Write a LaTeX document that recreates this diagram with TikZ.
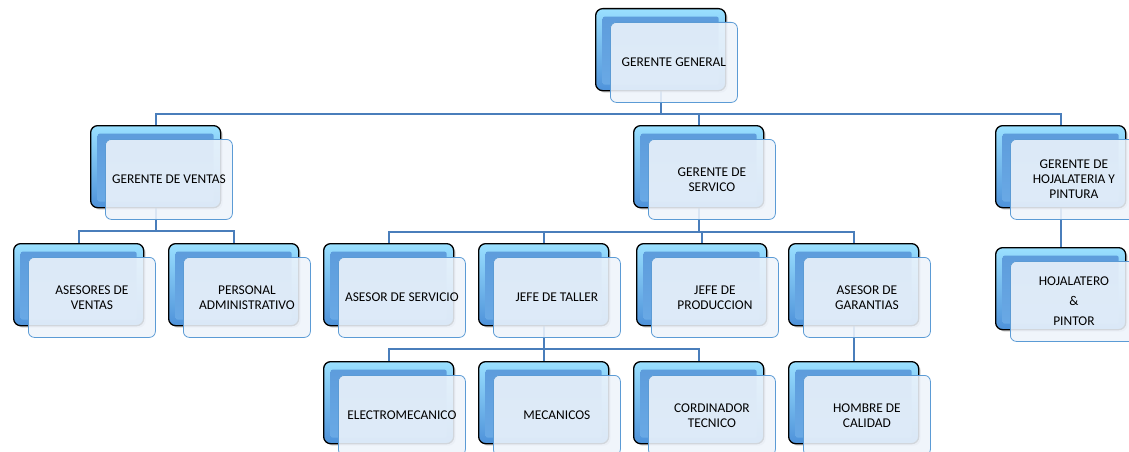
\documentclass[tikz,border=0pt]{standalone}
\usepackage{fontspec}
\setmainfont{Carlito}
\usetikzlibrary{shadows,calc}

\definecolor{bevtop}{HTML}{9AE0FF}
\definecolor{bevbot}{HTML}{4E92DA}
\definecolor{facetop}{HTML}{5C9BDB}
\definecolor{facebot}{HTML}{6AAAE6}
\definecolor{rimblue}{HTML}{5B9BD5}
\definecolor{glass}{HTML}{EEF4FB}
\definecolor{linkblue}{HTML}{4A7EBB}

\newcommand\orgfont{\fontsize{13.4}{15}\selectfont}
\pgfdeclarelayer{background}
\pgfsetlayers{background,main}

\tikzset{
  backbox/.style={draw=black, line width=1.3pt, rounded corners=7pt,
    minimum width=130pt, minimum height=82pt, anchor=north west, inner sep=0pt,
    top color=bevtop, bottom color=bevbot,
    drop shadow={shadow xshift=2pt, shadow yshift=-2pt, opacity=0.35},
    path picture={\shade[top color=facetop, bottom color=facebot, rounded corners=2pt]
      ([xshift=7pt,yshift=-8pt]path picture bounding box.north west) rectangle
      ([xshift=-7pt,yshift=6pt]path picture bounding box.south east);}},
  frontbox/.style={draw=rimblue, line width=0.8pt, rounded corners=6pt,
    fill=glass, fill opacity=0.88, text opacity=1,
    minimum width=127pt, minimum height=80pt, inner sep=2pt,
    align=center, font=\orgfont, anchor=north west},
  link/.style={draw=linkblue, line width=2.2pt}
}

% one unit: a bevelled block with a glass label card in front of it
\newcommand\orgunit[4]{%
  \node[backbox] (#1b) at (#2,#3) {};
  \node[frontbox] (#1) at ($(#2,#3)+(15,14)$) {#4};
}

\begin{document}
\begin{tikzpicture}[x=1pt, y=-1pt]
\clip (0,0) rectangle (1129,452);

\orgunit{gg}{595}{8}{GERENTE GENERAL}

\orgunit{ven}{90}{125}{GERENTE DE VENTAS}
\orgunit{ser}{633}{125}{GERENTE DE\\SERVICO}
\orgunit{hoj}{995}{125}{GERENTE DE\\HOJALATERIA Y\\PINTURA}

\orgunit{av}{13}{243}{ASESORES DE\\VENTAS}
\orgunit{pa}{168}{243}{PERSONAL\\ADMINISTRATIVO}
\orgunit{as}{323}{243}{ASESOR DE SERVICIO}
\orgunit{jt}{478}{243}{JEFE DE TALLER}
\orgunit{jp}{636}{243}{JEFE DE\\PRODUCCION}
\orgunit{ag}{788}{243}{ASESOR DE\\GARANTIAS}
\orgunit{hp}{995}{247}{HOJALATERO\\[5pt]\&\\[5pt]PINTOR}

\orgunit{el}{323}{361}{ELECTROMECANICO}
\orgunit{me}{478}{361}{MECANICOS}
\orgunit{co}{633}{361}{CORDINADOR\\TECNICO}
\orgunit{hc}{788}{361}{HOMBRE DE\\CALIDAD}

\coordinate (busA) at (0,114);
\coordinate (busB) at (0,231);
\coordinate (busC) at (0,232);
\coordinate (busD) at (0,349);

\begin{pgfonlayer}{background}
  % top level
  \draw[link] (ggb.south) -- (ggb.south |- busA);
  \draw[link] (venb.north) |- (hojb.north |- busA) -- (hojb.north);
  \draw[link] (serb.north) -- (serb.north |- busA);
  % sales
  \draw[link] (venb.south) -- (venb.south |- busB);
  \draw[link] (avb.north) |- (pab.north |- busB) -- (pab.north);
  % service
  \draw[link] (serb.south) -- (serb.south |- busC);
  \draw[link] (asb.north) |- (agb.north |- busC) -- (agb.north);
  \draw[link] (jtb.north) -- (jtb.north |- busC);
  \draw[link] (jpb.north) -- (jpb.north |- busC);
  % workshop
  \draw[link] (jtb.south) -- (jtb.south |- busD);
  \draw[link] (elb.north) |- (cob.north |- busD) -- (cob.north);
  \draw[link] (meb.north) -- (meb.north |- busD);
  % single descendants
  \draw[link] (agb.south) -- (hcb.north);
  \draw[link] (hojb.south) -- (hpb.north);
\end{pgfonlayer}
\end{tikzpicture}
\end{document}
